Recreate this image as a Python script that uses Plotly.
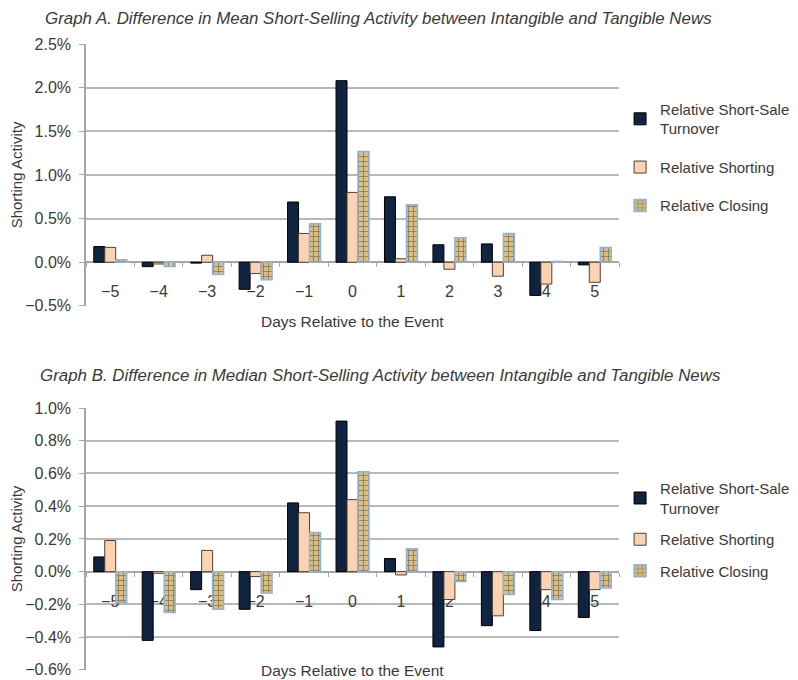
import plotly.graph_objects as go

# ---------------- data ----------------
days = [-5, -4, -3, -2, -1, 0, 1, 2, 3, 4, 5]
day_labels = ["\u22125", "\u22124", "\u22123", "\u22122", "\u22121", "0", "1", "2", "3", "4", "5"]

series_names = ["Relative Short-Sale<br>Turnover", "Relative Shorting", "Relative Closing"]

mean_turnover = [0.0018, -0.0005, -0.0001, -0.0031, 0.0069, 0.0208, 0.0075, 0.0020, 0.0021, -0.0038, -0.0003]
mean_shorting = [0.0017, -0.0002, 0.0008, -0.0013, 0.0033, 0.0080, 0.0004, -0.0008, -0.0016, -0.0025, -0.0023]
mean_closing = [0.0003, -0.0005, -0.0014, -0.0020, 0.0044, 0.0127, 0.0066, 0.0028, 0.0033, 0.0001, 0.0017]

median_turnover = [0.0009, -0.0042, -0.0011, -0.0023, 0.0042, 0.0092, 0.0008, -0.0046, -0.0033, -0.0036, -0.0028]
median_shorting = [0.0019, -0.0001, 0.0013, -0.0003, 0.0036, 0.0044, -0.0002, -0.0017, -0.0027, -0.0011, -0.0011]
median_closing = [-0.0019, -0.0025, -0.0023, -0.0013, 0.0024, 0.0061, 0.0014, -0.0006, -0.0014, -0.0017, -0.0010]

title_a = "Graph A. Difference in Mean Short-Selling Activity between Intangible and Tangible News"
title_b = "Graph B. Difference in Median Short-Selling Activity between Intangible and Tangible News"
x_title = "Days Relative to the Event"
y_title = "Shorting Activity"

# tiny extra below the lowest tick so its gridline is drawn
range_a = [-0.00501, 0.025]
range_b = [-0.00601, 0.010]

# ---------------- styles ----------------
FONT = "Liberation Sans"
TXT = "#3a3a3a"
AXIS = "#a6a6a6"
GRID = "#b8b8b8"

styles = [
    dict(color="#10233f", line=dict(color="#000000", width=1)),
    dict(color="#fbd3b2", line=dict(color="#4d4037", width=1)),
    dict(color="#d6c088", line=dict(color="#8db3e2", width=1.5),
         pattern=dict(shape="+", fgcolor="#5c4214", size=5, solidity=0.35, fillmode="overlay")),
]

dom_a = [0.5815, 1.0]
dom_b = [0.0, 0.4185]


def zero_pos(dom, rng):
    return dom[0] + (0 - rng[0]) / (rng[1] - rng[0]) * (dom[1] - dom[0])


fig = go.Figure()
for vals, name, st in zip([mean_turnover, mean_shorting, mean_closing], series_names, styles):
    fig.add_trace(go.Bar(x=days, y=vals, name=name, marker=st, xaxis="x", yaxis="y",
                         legend="legend", legendgroup="a" + name))
for vals, name, st in zip([median_turnover, median_shorting, median_closing], series_names, styles):
    fig.add_trace(go.Bar(x=days, y=vals, name=name, marker=st, xaxis="x2", yaxis="y2",
                         legend="legend2", legendgroup="b" + name))


def xaxis_cfg(dom, rng):
    return dict(
        domain=[0, 1], range=[-5.5, 5.5], anchor="free", position=zero_pos(dom, rng),
        tickmode="array", tickvals=days, ticktext=day_labels, ticks="",
        showline=True, linecolor=AXIS, linewidth=2, showgrid=False, zeroline=False,
        minor=dict(tick0=-5.5, dtick=1, ticks="outside", ticklen=4, tickcolor=AXIS, tickwidth=1, showgrid=False),
        ticklabelstandoff=15, layer="below traces", automargin=False,
        tickfont=dict(family=FONT, size=16, color=TXT),
    )


def yaxis_cfg(dom, rng, dt, anchor):
    return dict(
        domain=dom, range=rng, anchor=anchor, tick0=0, dtick=dt, tickformat=".1%",
        showgrid=True, gridcolor=GRID, gridwidth=1.5, zeroline=False,
        showline=True, linecolor=AXIS, linewidth=1.5, ticks="outside", ticklen=5, tickcolor=AXIS,
        ticklabelstandoff=5, automargin=False,
        tickfont=dict(family=FONT, size=16, color=TXT),
        title=dict(text=y_title, font=dict(family=FONT, size=15, color=TXT), standoff=0),
    )


# the page body adds an 8px offset, so margins on the left/top are 8px smaller
fig.update_layout(
    width=800, height=672,
    margin=dict(l=78, r=189, t=36, b=10, autoexpand=False),
    paper_bgcolor="white", plot_bgcolor="white",
    barmode="group", bargap=0.32, bargroupgap=0,
    font=dict(family=FONT, color=TXT),
    xaxis=xaxis_cfg(dom_a, range_a),
    yaxis=yaxis_cfg(dom_a, range_a, 0.005, "x"),
    xaxis2=xaxis_cfg(dom_b, range_b),
    yaxis2=yaxis_cfg(dom_b, range_b, 0.002, "x2"),
    legend=dict(x=1.002, xanchor="left", y=0.922, yanchor="top", tracegroupgap=16,
                font=dict(family=FONT, size=15, color=TXT), bgcolor="rgba(0,0,0,0)"),
    legend2=dict(x=1.002, xanchor="left", y=0.3163, yanchor="top", tracegroupgap=9,
                 font=dict(family=FONT, size=15, color=TXT), bgcolor="rgba(0,0,0,0)"),
    annotations=[
        dict(text=title_a, xref="paper", yref="paper", x=-0.079, y=1.0415, xanchor="left", yanchor="middle",
             showarrow=False, borderpad=0, font=dict(family=FONT, size=16.9, color=TXT, style="italic")),
        dict(text=title_b, xref="paper", yref="paper", x=-0.0895, y=0.4697, xanchor="left", yanchor="middle",
             showarrow=False, font=dict(family=FONT, size=16.9, color=TXT, style="italic")),
        dict(text=x_title, xref="paper", yref="paper", x=0.5, y=0.5575, xanchor="center", yanchor="middle",
             showarrow=False, font=dict(family=FONT, size=15.5, color=TXT)),
        dict(text=x_title, xref="paper", yref="paper", x=0.5, y=0.0, xanchor="center", yanchor="middle",
             showarrow=False, bgcolor="white", borderpad=4, font=dict(family=FONT, size=15.5, color=TXT)),
    ],
)

fig.write_html("out.html")
